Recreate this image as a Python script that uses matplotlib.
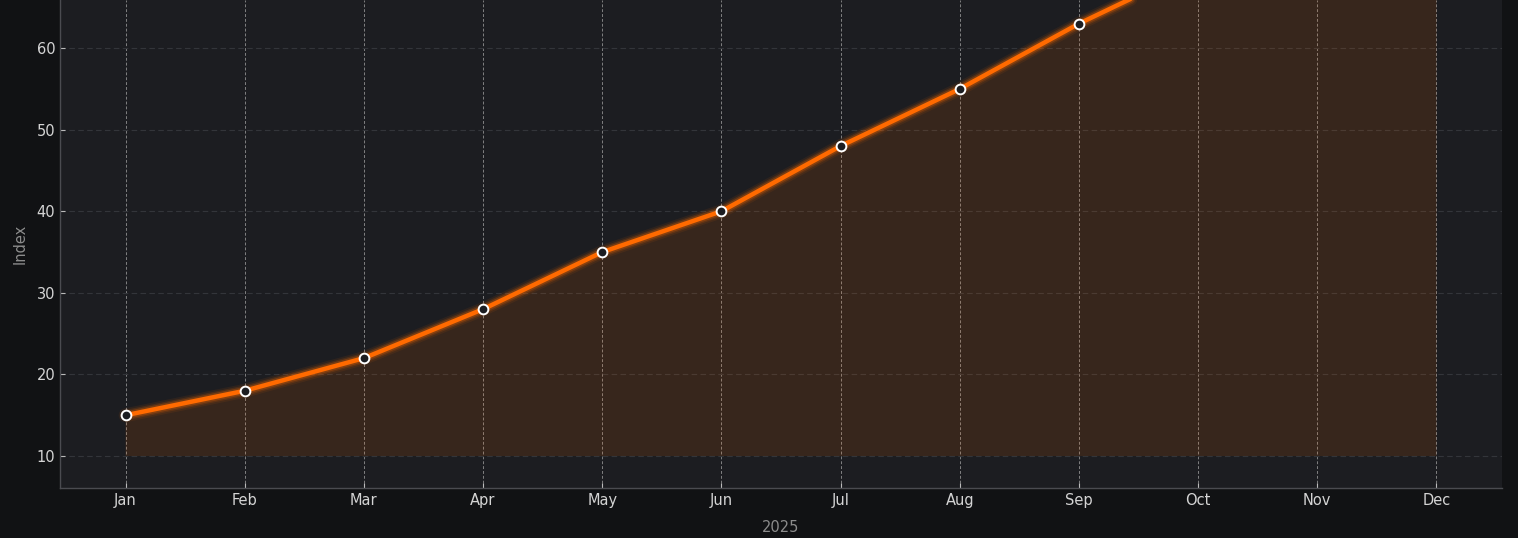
import matplotlib
matplotlib.use("Agg")
import matplotlib.pyplot as plt

plt.rcParams['font.family'] = ['DejaVu Sans']

# Data
months = ['Jan', 'Feb', 'Mar', 'Apr', 'May', 'Jun', 'Jul', 'Aug', 'Sep', 'Oct', 'Nov', 'Dec']
index_values = [15, 18, 22, 28, 35, 40, 48, 55, 63, 70, 76, 82]
baseline = 10
y_ticks = [10, 20, 30, 40, 50, 60]

fig = plt.figure(figsize=(15.18, 5.38), dpi=100, facecolor='#111214')
ax = fig.add_axes([60 / 1518, 1 - 488 / 538, (1502 - 60) / 1518, 488 / 538])
ax.set_facecolor('#1c1d21')

x = list(range(len(months)))
orange = '#ff6a00'

ax.fill_between(x, baseline, index_values, color=orange, alpha=0.12, linewidth=0, zorder=1)
# soft glow under the line
for lw, a in [(10, 0.08), (7.5, 0.14), (5.5, 0.25)]:
    ax.plot(x, index_values, color=orange, linewidth=lw, alpha=a, zorder=2,
            solid_capstyle='round', solid_joinstyle='round')
ax.plot(x, index_values, color=orange, linewidth=3.2, zorder=3, solid_capstyle='round',
        marker='o', markersize=7, markerfacecolor='#1c1d21', markeredgecolor='white',
        markeredgewidth=1.4)

ax.set_xlim(-0.55, 11.55)
ax.set_ylim(6.08, 65.9)
ax.set_xticks(x)
ax.set_xticklabels(months)
ax.set_yticks(y_ticks)

ax.grid(axis='x', color='#9a9a9a', linestyle='--', linewidth=0.7, alpha=0.8, dashes=(3, 2))
ax.grid(axis='y', color='#33353a', linestyle='--', linewidth=0.8, dashes=(5, 3))
ax.set_axisbelow(True)

for side in ['top', 'right']:
    ax.spines[side].set_visible(False)
for side in ['left', 'bottom']:
    ax.spines[side].set_color('#4a4b50')
    ax.spines[side].set_linewidth(1)

ax.tick_params(labelcolor='#d4d4d4', labelsize=10.5, length=3.5, width=0.8,
               color='#bbbbbb', direction='in', pad=3.5)

ax.set_xlabel('2025', color='#8c8c8c', fontsize=10.5, labelpad=9)
ax.set_ylabel('Index', color='#8c8c8c', fontsize=10.5, labelpad=6)

fig.savefig('out.png', dpi=100, facecolor=fig.get_facecolor())
